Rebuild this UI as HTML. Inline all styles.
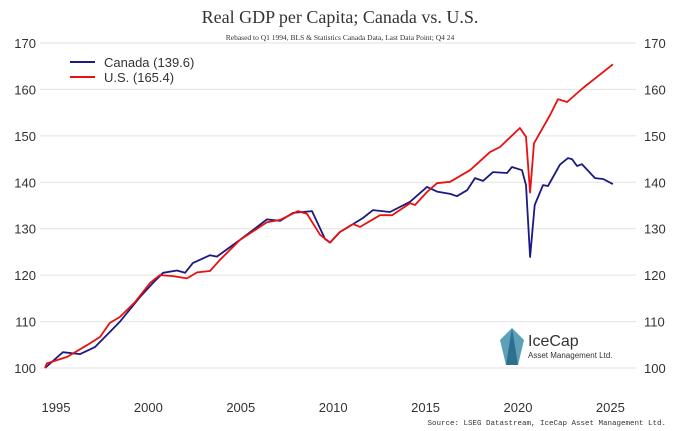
<!DOCTYPE html>
<html><head><meta charset="utf-8"><style>
body{margin:0;background:#fff;}
svg{display:block;font-family:"Liberation Sans",sans-serif;}
</style></head><body>
<svg id="chart" width="680" height="431" viewBox="0 0 680 431">
<text x="340" y="23" text-anchor="middle" font-family="Liberation Serif, serif" font-size="18" fill="#333">Real GDP per Capita; Canada vs. U.S.</text>
<text x="340" y="40" text-anchor="middle" font-family="Liberation Serif, serif" font-size="7.5" fill="#333">Rebased to Q1 1994, BLS &amp; Statistics Canada Data, Last Data Point; Q4 24</text>
<g id="grid"></g><g id="series"></g>
<g>
<line x1="70" y1="62" x2="95" y2="62" stroke="#1a1a80" stroke-width="2"/>
<text x="104" y="67" font-size="13" fill="#333">Canada (139.6)</text>
<line x1="70" y1="77" x2="95" y2="77" stroke="#e81010" stroke-width="2"/>
<text x="104" y="82" font-size="13" fill="#333">U.S. (165.4)</text>
</g>
<g>
<polygon points="512,328 524,340 518,365 506,365 500,340" fill="#5b9fb8"/>
<polygon points="512,328 518,365 506,365" fill="#2f6f8e"/>
<text x="528" y="346" font-size="16" fill="#333">IceCap</text>
<text x="528" y="358" font-size="8" fill="#333">Asset Management Ltd.</text>
</g>
<text x="666" y="425" text-anchor="end" font-family="Liberation Mono, monospace" font-size="7.5" fill="#333">Source: LSEG Datastream, IceCap Asset Management Ltd.</text>
</svg>
<script>
const yTicks=[100,110,120,130,140,150,160,170];
const xTicks=[1995,2000,2005,2010,2015,2020,2025];
const canadaT=[1994.0,1994.97,1995.9,1996.7,1998.06,1999.14,1999.84,2000.39,2001.14,2001.58,2002.0,2002.93,2003.3,2004.55,2006.01,2006.72,2007.42,2008.45,2009.15,2009.42,2009.96,2010.13,2011.21,2011.75,2012.67,2013.75,2014.67,2015.21,2015.92,2016.29,2016.84,2017.27,2017.7,2018.24,2019.0,2019.27,2019.81,2020.03,2020.25,2020.5,2020.95,2021.22,2021.87,2022.3,2022.52,2022.79,2023.06,2023.76,2024.2,2024.73];
const canadaV=[100,103.4,103,104.5,110,115.3,118.3,120.5,121,120.5,122.6,124.3,124,127.6,132,131.7,133.4,133.8,127.8,127,129.3,129.7,132.3,134,133.6,135.8,139,138,137.5,137,138.3,140.9,140.3,142.2,142,143.3,142.6,139.4,123.9,135.1,139.4,139.2,143.8,145.2,145,143.5,143.9,140.9,140.7,139.6];
const usT=[1994.0,1994.1,1995.2,1996.27,1996.98,1997.5,1998.06,1998.87,1999.68,2000.22,2000.93,2001.68,2002.23,2002.93,2003.47,2004.55,2005.63,2006.01,2006.72,2007.69,2008.18,2008.88,2009.42,2009.96,2010.67,2011.05,2012.13,2012.78,2013.75,2014.02,2014.67,2015.21,2015.92,2017.0,2018.08,2018.62,2019.7,2020.03,2020.25,2020.46,2021.33,2021.76,2022.25,2023.11,2023.87,2024.73];
const usV=[100,101,102.4,104.9,106.7,109.7,111,114.2,118.3,120,119.8,119.3,120.6,120.9,123.3,127.6,130.4,131.4,131.9,133.8,133.2,128.7,127,129.3,131,130.4,132.9,132.9,135.5,135.1,137.9,139.8,140.1,142.6,146.5,147.6,151.7,149.8,137.8,148.4,154.5,157.9,157.3,160.3,162.7,165.4];
const xs=t=>45+(t-1994)*18.48;
const ys=v=>368-(v-100)*4.643;
const NS='http://www.w3.org/2000/svg';
const grid=document.getElementById('grid');
yTicks.forEach(v=>{
 const l=document.createElementNS(NS,'line');
 l.setAttribute('x1',40);l.setAttribute('x2',636);l.setAttribute('y1',ys(v));l.setAttribute('y2',ys(v));
 l.setAttribute('stroke','#e2e2e2');l.setAttribute('stroke-width','1');
 
 
 grid.appendChild(l);
 [[36,'end'],[644,'start']].forEach(([x,a])=>{
  const t=document.createElementNS(NS,'text');
  t.setAttribute('x',x);t.setAttribute('y',ys(v)+5);t.setAttribute('text-anchor',a);
  t.setAttribute('font-size','13');t.setAttribute('fill','#333');t.textContent=v;
  
  
  grid.appendChild(t);
 });
});
xTicks.forEach(y=>{
 const t=document.createElementNS(NS,'text');
 t.setAttribute('x',xs(y)-7.5);t.setAttribute('y',412);t.setAttribute('text-anchor','middle');
 t.setAttribute('font-size','13');t.setAttribute('fill','#333');t.textContent=y;
 
 
 grid.appendChild(t);
});
const g=document.getElementById('series');
function draw(T,V,color,name){
 const p=document.createElementNS(NS,'polyline');
 p.setAttribute('points',T.map((t,i)=>xs(t).toFixed(1)+','+ys(V[i]).toFixed(1)).join(' '));
 p.setAttribute('fill','none');p.setAttribute('stroke',color);p.setAttribute('stroke-width','1.8');
 p.setAttribute('stroke-linejoin','round');
 
 
 g.appendChild(p);
}
draw(canadaT,canadaV,'#1a1a80','canada-line');
draw(usT,usV,'#e81010','us-line');
</script>
</body></html>
